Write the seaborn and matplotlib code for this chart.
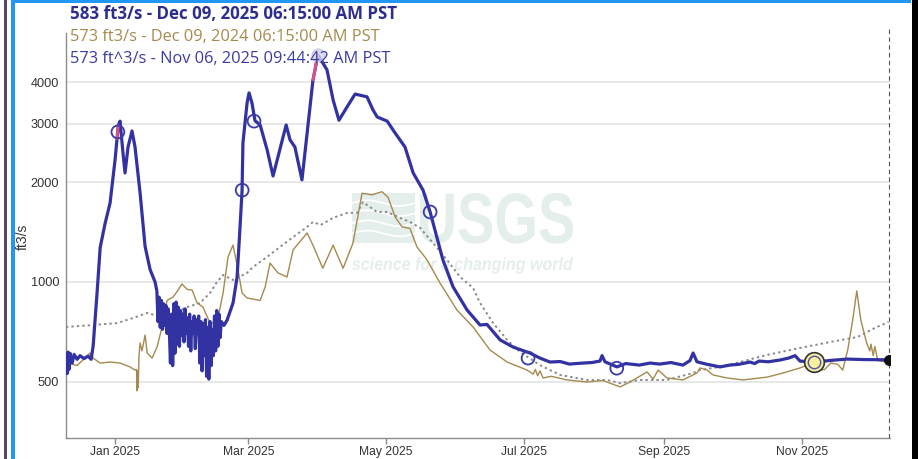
import numpy as np
import pandas as pd
import matplotlib
matplotlib.use("Agg")
import matplotlib.pyplot as plt
import matplotlib.dates as mdates
from matplotlib.ticker import FixedLocator, NullLocator, FuncFormatter
from matplotlib.patches import Rectangle, PathPatch
from matplotlib.textpath import TextPath
from matplotlib.font_manager import FontProperties
from matplotlib.transforms import Affine2D
import seaborn as sns

# ---------------------------------------------------------------- data
# Current year discharge (ft3/s), before the ice-affected stretch
cur_a_dates = [
    "2024-12-10 07:00", "2024-12-10 19:00", "2024-12-11 05:00", "2024-12-11 14:00",
    "2024-12-12 02:00", "2024-12-13 00:00", "2024-12-13 21:00", "2024-12-15 05:00",
    "2024-12-16 12:00", "2024-12-18 07:00", "2024-12-20 02:00", "2024-12-21 10:00",
    "2024-12-22 07:00", "2024-12-24 00:00", "2024-12-25 10:00", "2024-12-27 14:00",
    "2024-12-29 19:00", "2025-01-01 00:00", "2025-01-01 21:00", "2025-01-02 10:00",
    "2025-01-03 05:00", "2025-01-04 12:00", "2025-01-05 10:00", "2025-01-06 18:00",
    "2025-01-08 12:00", "2025-01-09 20:00", "2025-01-12 02:00", "2025-01-14 07:00",
    "2025-01-16 12:00", "2025-01-18 17:00",
]
cur_a_vals = [
    600, 530, 615, 545, 610, 570, 605, 585, 600, 588, 598, 585,
    640, 920, 1270, 1500, 1730, 2330, 2700, 2960, 3050, 2450, 2130, 2550,
    2850, 2550, 1850, 1280, 1090, 1000,
]

# Ice-affected swings, 12-hourly readings from 2025-01-19 12:00
jag_start = "2025-01-19 12:00"
jag_vals = [
    940, 760, 900, 730, 880, 720, 860, 740, 850, 700, 830, 720,
    570, 800, 560, 860, 610,
    870, 650, 840, 640, 820, 690, 800, 660, 830, 700,
    780, 640, 800, 620, 760, 700, 790, 630, 770,
    700, 790, 570, 760, 540, 750, 600, 770, 520, 730, 510, 760, 560, 720, 600, 790,
    620, 820, 640, 800, 680, 760,
]

# Current year discharge after the ice-affected stretch
cur_b_dates = [
    "2025-02-18 05:00", "2025-02-19 14:00", "2025-02-22 05:00", "2025-02-24 00:00",
    "2025-02-25 07:00", "2025-02-26 05:00", "2025-02-26 14:00", "2025-02-28 10:00",
    "2025-03-01 07:00", "2025-03-02 14:00", "2025-03-03 22:00", "2025-03-06 05:00",
    "2025-03-09 07:00", "2025-03-11 22:00", "2025-03-14 02:00", "2025-03-17 17:00",
    "2025-03-19 10:00", "2025-03-21 14:00", "2025-03-24 17:00", "2025-03-27 00:00",
    "2025-03-29 14:00", "2025-03-31 19:00", "2025-04-04 19:00", "2025-04-07 12:00",
    "2025-04-10 02:00", "2025-04-13 17:00", "2025-04-17 05:00", "2025-04-22 12:00",
    "2025-04-25 05:00", "2025-04-27 00:00", "2025-05-01 10:00", "2025-05-04 22:00",
    "2025-05-09 07:00", "2025-05-12 22:00", "2025-05-17 07:00", "2025-05-20 10:00",
    "2025-05-26 02:00", "2025-05-30 14:00", "2025-06-05 19:00", "2025-06-09 12:00",
    "2025-06-11 12:00", "2025-06-14 14:00", "2025-06-20 10:00", "2025-06-26 02:00",
    "2025-07-03 14:00", "2025-07-08 00:00", "2025-07-12 12:00", "2025-07-17 00:00",
    "2025-07-21 00:00", "2025-07-27 02:00", "2025-07-31 00:00", "2025-08-03 14:00",
    "2025-08-04 12:00", "2025-08-05 19:00", "2025-08-11 02:00", "2025-08-15 00:00",
    "2025-08-21 00:00", "2025-08-25 17:00", "2025-08-30 00:00", "2025-09-04 00:00",
    "2025-09-09 07:00", "2025-09-12 10:00", "2025-09-13 19:00", "2025-09-15 12:00",
    "2025-09-20 00:00", "2025-09-25 17:00", "2025-09-30 00:00", "2025-10-04 00:00",
    "2025-10-09 00:00", "2025-10-11 00:00", "2025-10-13 00:00", "2025-10-17 00:00",
    "2025-10-22 05:00", "2025-10-26 00:00", "2025-10-28 22:00", "2025-10-31 02:00",
    "2025-11-06 09:44", "2025-11-13 00:00", "2025-11-20 22:00", "2025-11-28 00:00",
    "2025-12-09 06:15",
]
cur_b_vals = [
    740, 768, 865, 1035, 1460, 1890, 2620, 3460, 3710, 3460, 3060, 2970,
    2500, 2085, 2380, 2970, 2680, 2550, 2030, 2810, 4060, 4830, 4350, 3530,
    3070, 3370, 3680, 3610, 3290, 3140, 3050, 2810, 2550, 2130, 1890, 1625,
    1165, 966, 823, 770, 742, 745, 669, 637, 611, 590, 574, 576,
    566, 570, 572, 578, 600, 575, 555, 568, 562, 570, 566, 572,
    562, 580, 611, 575, 565, 555, 562, 565, 574, 568, 578, 575,
    582, 590, 600, 578,
    573, 580, 586, 584, 583,
]

# Same dates one year earlier, plotted on this year's calendar
prev_dates = [
    "2024-12-10 07:00", "2024-12-15 05:00", "2024-12-20 22:00", "2024-12-22 07:00",
    "2024-12-25 10:00", "2024-12-29 19:00", "2025-01-03 05:00", "2025-01-07 14:00",
    "2025-01-09 20:00", "2025-01-10 12:00", "2025-01-10 18:00", "2025-01-11 00:00",
    "2025-01-11 06:00", "2025-01-11 14:00", "2025-01-12 02:00", "2025-01-12 22:00",
    "2025-01-14 07:00", "2025-01-15 05:00", "2025-01-17 10:00", "2025-01-19 14:00",
    "2025-01-21 19:00", "2025-01-24 00:00", "2025-01-26 17:00", "2025-01-28 22:00",
    "2025-01-30 14:00", "2025-02-01 22:00", "2025-02-04 02:00", "2025-02-06 07:00",
    "2025-02-08 22:00", "2025-02-12 00:00", "2025-02-15 02:00", "2025-02-17 19:00",
    "2025-02-20 00:00", "2025-02-22 05:00", "2025-02-24 10:00", "2025-02-26 05:00",
    "2025-02-28 10:00", "2025-03-06 05:00", "2025-03-08 10:00", "2025-03-10 14:00",
    "2025-03-14 02:00", "2025-03-18 02:00", "2025-03-20 19:00", "2025-03-27 00:00",
    "2025-03-29 14:00", "2025-04-02 22:00", "2025-04-07 12:00", "2025-04-11 22:00",
    "2025-04-16 07:00", "2025-04-20 07:00", "2025-04-24 17:00", "2025-04-29 02:00",
    "2025-05-01 19:00", "2025-05-04 22:00", "2025-05-08 00:00", "2025-05-11 12:00",
    "2025-05-14 14:00", "2025-05-19 02:00", "2025-05-24 19:00", "2025-06-01 07:00",
    "2025-06-08 10:00", "2025-06-15 22:00", "2025-06-23 12:00", "2025-07-02 07:00",
    "2025-07-05 00:00", "2025-07-06 00:00", "2025-07-07 00:00", "2025-07-08 00:00",
    "2025-07-09 10:00", "2025-07-13 00:00", "2025-07-20 00:00", "2025-07-28 19:00",
    "2025-08-04 22:00", "2025-08-12 12:00", "2025-08-16 22:00", "2025-08-24 10:00",
    "2025-08-27 02:00", "2025-08-29 07:00", "2025-09-02 05:00", "2025-09-09 07:00",
    "2025-09-15 12:00", "2025-09-16 19:00", "2025-09-20 00:00", "2025-09-22 14:00",
    "2025-09-28 19:00", "2025-10-05 22:00", "2025-10-16 12:00", "2025-10-23 14:00",
    "2025-10-31 02:00", "2025-11-03 05:00", "2025-11-08 22:00", "2025-11-11 00:00",
    "2025-11-13 17:00", "2025-11-16 19:00", "2025-11-19 00:00", "2025-11-21 05:00",
    "2025-11-23 10:00", "2025-11-25 05:00", "2025-11-27 00:00", "2025-11-29 14:00",
    "2025-12-01 00:00", "2025-12-01 12:00", "2025-12-02 12:00", "2025-12-03 05:00",
    "2025-12-04 12:00", "2025-12-09 06:15",
]
prev_vals = [
    573, 560, 611, 590, 570, 574, 570, 555, 543, 545, 470, 540,
    480, 600, 655, 620, 692, 611, 590, 637, 732, 880, 901, 946,
    986, 950, 946, 865, 840, 752, 752, 926, 1190, 1292, 1087, 926,
    895, 880, 966, 1140, 1065, 1035, 1250, 1405, 1290, 1100, 1290, 1100,
    1310, 1850, 1830, 1870, 1800, 1570, 1465, 1450, 1275, 1165, 993, 823,
    732, 624, 574, 543, 528, 545, 522, 540, 514, 520, 507, 500,
    505, 483, 500, 536, 510, 543, 514, 507, 532, 551, 543, 525,
    514, 507, 517, 532, 551, 562, 543, 545, 570, 565, 543, 624,
    768, 940, 768, 655, 620, 650, 600, 640, 580, 573,
]

# Median daily statistic
med_dates = [
    "2024-12-10 07:00", "2024-12-22 07:00", "2025-01-01 21:00", "2025-01-09 00:00",
    "2025-01-15 05:00", "2025-01-20 22:00", "2025-01-26 17:00", "2025-02-01 22:00",
    "2025-02-07 14:00", "2025-02-12 00:00", "2025-02-15 02:00", "2025-02-17 19:00",
    "2025-02-22 05:00", "2025-02-28 10:00", "2025-03-03 02:00", "2025-03-09 07:00",
    "2025-03-15 00:00", "2025-03-20 19:00", "2025-03-27 00:00", "2025-03-29 14:00",
    "2025-04-02 00:00", "2025-04-07 12:00", "2025-04-13 17:00", "2025-04-18 02:00",
    "2025-04-20 17:00", "2025-04-26 22:00", "2025-05-01 10:00", "2025-05-07 02:00",
    "2025-05-11 12:00", "2025-05-16 00:00", "2025-05-21 17:00", "2025-05-27 22:00",
    "2025-06-02 17:00", "2025-06-08 10:00", "2025-06-11 12:00", "2025-06-17 07:00",
    "2025-06-23 12:00", "2025-06-29 05:00", "2025-07-08 00:00", "2025-07-16 22:00",
    "2025-07-28 19:00", "2025-08-06 17:00", "2025-08-12 12:00", "2025-08-21 07:00",
    "2025-09-02 05:00", "2025-09-13 19:00", "2025-09-16 19:00", "2025-09-25 17:00",
    "2025-10-04 12:00", "2025-10-16 12:00", "2025-10-31 02:00", "2025-11-13 17:00",
    "2025-11-25 14:00", "2025-12-03 05:00", "2025-12-09 06:15",
]
med_vals = [
    732, 742, 752, 779, 807, 785, 807, 840, 865, 926, 1000, 1050,
    1014, 1065, 1110, 1190, 1275, 1365, 1465, 1516, 1485, 1560, 1615, 1615,
    1740, 1625, 1625, 1560, 1516, 1455, 1310, 1165, 1035, 960, 865, 752,
    669, 616, 562, 525, 507, 507, 496, 507, 507, 532, 543, 555,
    574, 603, 633, 660, 683, 727, 758,
]

# Field measurements
meas_dates = ["2025-01-02 06:00", "2025-02-26 06:00", "2025-03-03 12:00",
              "2025-05-20 10:00", "2025-07-02 18:00", "2025-08-11 00:00"]
meas_vals = [2830, 1890, 3050, 1625, 590, 550]
faded_meas_date, faded_meas_val = "2025-04-01 00:00", 4830
sel_meas_date, sel_meas_val = "2025-11-06 09:44:42", 573

# Stretches of the record flagged in pink
flag_windows = [("2025-01-01 21:00", "2025-01-02 10:00"),
                ("2025-03-29 14:00", "2025-03-31 19:00")]

latest_date, latest_val = "2025-12-09 06:15", 583

y_ticks = [500, 1000, 2000, 3000, 4000]
header_lines = [
    "583 ft3/s - Dec 09, 2025 06:15:00 AM PST",
    "573 ft3/s - Dec 09, 2024 06:15:00 AM PST",
    "573 ft^3/s - Nov 06, 2025 09:44:42 AM PST",
]

# ---------------------------------------------------------------- frames
current = pd.concat([
    pd.DataFrame({"t": pd.to_datetime(cur_a_dates), "q": cur_a_vals}),
    pd.DataFrame({"t": pd.date_range(jag_start, periods=len(jag_vals), freq="12h"),
                  "q": jag_vals}),
    pd.DataFrame({"t": pd.to_datetime(cur_b_dates), "q": cur_b_vals}),
], ignore_index=True)
previous = pd.DataFrame({"t": pd.to_datetime(prev_dates), "q": prev_vals})
median = pd.DataFrame({"t": pd.to_datetime(med_dates), "q": med_vals})
meas = pd.DataFrame({"t": pd.to_datetime(meas_dates), "q": meas_vals})

# ---------------------------------------------------------------- style
sns.set_theme(style="white")
plt.rcParams["font.family"] = ["Liberation Sans", "DejaVu Sans"]

W, H = 918, 459
BLUE = "#3232a2"
BROWN = "#a58a4f"
GRAY = "#8a8a8a"

fig = plt.figure(figsize=(W / 100, H / 100), dpi=100)
ax = fig.add_axes([66 / W, 21 / H, 824 / W, 405 / H])


def stamp(text, prop, x0, x1, y_top, y_base, ink):
    """Place text as a filled outline fitted between pixel bounds."""
    tp = TextPath((0, 0), text, size=1, prop=prop)
    ext = tp.get_extents()
    sx = (x1 - x0) / ext.width
    sy = (y_base - y_top) / ext.y1
    tr = (Affine2D().translate(-ext.x0, 0).scale(sx, sy)
          .translate(x0, H - y_base).scale(1 / W, 1 / H) + fig.transFigure)
    patch = PathPatch(tp, transform=tr, facecolor=ink, edgecolor="none",
                      zorder=0.6, clip_on=False)
    ax.add_artist(patch)


# watermark
wm = "#e4eeea"
ax.add_patch(Rectangle((0.347, 0.481), 0.0765, 0.124, transform=ax.transAxes,
                       facecolor=wm, edgecolor="none", zorder=0.5))
wx = np.linspace(0.347, 0.4235, 40)
for base in (0.505, 0.53, 0.555, 0.58):
    ax.plot(wx, base + 0.007 * np.sin((wx - 0.347) / 0.0765 * 2 * np.pi),
            transform=ax.transAxes, color="white", lw=1.3, zorder=0.55)
stamp("USGS", FontProperties(family="Liberation Sans", weight="bold"),
      420, 573, 193, 243, wm)
stamp("science for a changing world",
      FontProperties(family="Liberation Sans", weight="bold", style="italic"),
      352, 573, 257, 270, wm)

# series
sns.lineplot(data=median, x="t", y="q", ax=ax, color=GRAY, lw=1.4,
             linestyle=(0, (1.2, 1.6)), estimator=None, sort=False, zorder=2)
sns.lineplot(data=previous, x="t", y="q", ax=ax, color=BROWN, lw=1.0,
             estimator=None, sort=False, zorder=3)
sns.lineplot(data=current, x="t", y="q", ax=ax, color=BLUE, lw=2.3,
             estimator=None, sort=False, zorder=4)
for a, b in flag_windows:
    seg = current[(current.t >= pd.Timestamp(a)) & (current.t <= pd.Timestamp(b))]
    sns.lineplot(data=seg, x="t", y="q", ax=ax, color="#e0508a", lw=2.0,
                 estimator=None, sort=False, zorder=5)

# measurements
sns.scatterplot(data=meas, x="t", y="q", ax=ax, s=85, facecolor="none",
                edgecolor="#3a3aa8", linewidth=1.3, zorder=6)
ax.scatter([pd.Timestamp(faded_meas_date)], [faded_meas_val], s=85,
           facecolor="#d4d4f0", edgecolor="#c0c0e6", linewidth=1.0,
           alpha=0.8, zorder=6)
ax.scatter([pd.Timestamp(sel_meas_date)], [sel_meas_val], s=200,
           facecolor="#f6ef9c", edgecolor="#333333", linewidth=1.2, zorder=7)
ax.scatter([pd.Timestamp(sel_meas_date)], [sel_meas_val], s=80,
           facecolor="#f6ef9c", edgecolor="#5050b0", linewidth=1.0, zorder=7)
ax.scatter([pd.Timestamp(latest_date)], [latest_val], s=48,
           color="#111111", zorder=8)
ax.axvline(pd.Timestamp(latest_date), ymax=1.012, color="#555555", lw=0.8,
           linestyle=(0, (4, 3)), clip_on=False, zorder=1)

# axes
ax.set_yscale("log")
ax.set_ylim(339, 5620)
ax.set_xlim(pd.Timestamp("2024-12-10 07:00"), pd.Timestamp("2025-12-09 22:00"))
ax.yaxis.set_major_locator(FixedLocator(y_ticks))
ax.yaxis.set_minor_locator(NullLocator())
ax.yaxis.set_major_formatter(FuncFormatter(lambda v, p: f"{v:.0f}"))
ax.xaxis.set_major_locator(mdates.MonthLocator(bymonth=[1, 3, 5, 7, 9, 11]))
ax.xaxis.set_major_formatter(mdates.DateFormatter("%b %Y"))
ax.grid(axis="y", color="#e8e8e8", lw=1.4, zorder=0)
ax.grid(axis="x", visible=False)
ax.set_xlabel("")
ax.set_ylabel("")
ax.patch.set_visible(False)
for side in ("top", "right"):
    ax.spines[side].set_visible(False)
for side in ("left", "bottom"):
    ax.spines[side].set_color("#8c8c8c")
    ax.spines[side].set_linewidth(1.0)
ax.tick_params(axis="x", length=4, width=1, color="#8c8c8c", labelsize=8.7,
               labelcolor="#333333", pad=2, bottom=True)
ax.tick_params(axis="y", length=0, labelsize=9.2, labelcolor="#333333", pad=5)
fig.text(23 / W, 1 - 237 / H, "ft3/s", rotation=90, ha="center",
         va="center", fontsize=10, color="#333333")

# header readout
hdr_colors = ["#2d2d8e", BROWN, "#3b3ba0"]
hdr_y = [14, 37, 59]
hdr_w = ["bold", "normal", "normal"]
hdr_size = [12.2, 11.8, 11.8]
for txt, c, py, w, fs in zip(header_lines, hdr_colors, hdr_y, hdr_w, hdr_size):
    fig.text(70 / W, 1 - py / H, txt, ha="left", va="center", color=c,
             fontsize=fs, fontweight=w,
             family=["Open Sans", "DejaVu Sans"], zorder=10)

# page frame
fig.add_artist(Rectangle((4 / W, 0), 2.7 / W, 1, transform=fig.transFigure,
                         facecolor="#5a4662", edgecolor="none"))
fig.add_artist(Rectangle((11.3 / W, 0), 3.8 / W, 1, transform=fig.transFigure,
                         facecolor="#2196f3", edgecolor="none"))
fig.add_artist(Rectangle((11.3 / W, 1 - 2.7 / H), 900 / W, 2.7 / H,
                         transform=fig.transFigure, facecolor="#2196f3",
                         edgecolor="none"))
fig.add_artist(Rectangle((912 / W, 0), 6 / W, 1, transform=fig.transFigure,
                         facecolor="#000000", edgecolor="none"))

fig.savefig("out.png", dpi=100)
